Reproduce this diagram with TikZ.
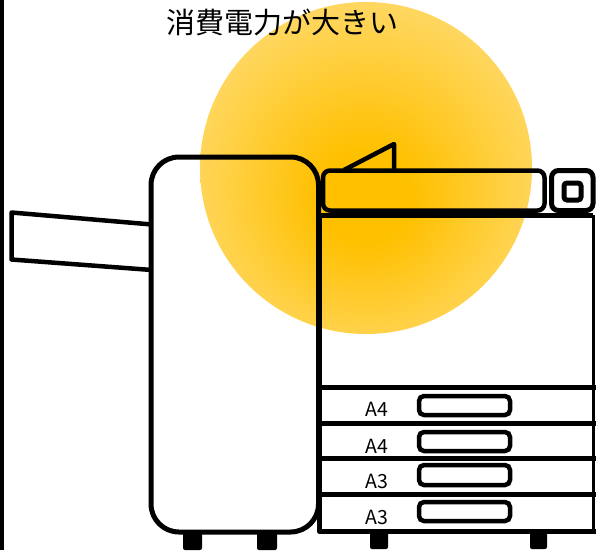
\documentclass[tikz,border=0pt]{standalone}
\usepackage{fontspec}
\setmainfont{Noto Sans CJK JP}
\definecolor{glowcore}{RGB}{255,192,0}
\definecolor{glowmid}{RGB}{255,214,92}
\definecolor{glowrim}{RGB}{255,236,168}
% warm radial glow: small solid core, fading to a pale rim at the circle's edge
\pgfdeclareradialshading{warmglow}{\pgfpoint{0bp}{-5bp}}{color(0bp)=(glowcore); color(7bp)=(glowcore); color(26bp)=(glowmid); color(50bp)=(glowrim)}
\begin{document}
\begin{tikzpicture}[x=1pt,y=-1pt,
  outline/.style={line width=5pt, line join=round},
  part/.style={line width=4.5pt, line join=round},
  foot/.style={fill=black, rounded corners=2pt},
  handle/.style={line width=4.5pt, rounded corners=5pt},
  traylabel/.style={font=\fontsize{19.5}{19.5}\selectfont, inner sep=0pt},
  title/.style={font=\fontsize{29}{29}\selectfont, inner sep=0pt}]
\useasboundingbox (0,0) rectangle (596,550);

% left border strip
\fill[black] (0,0) rectangle (4,550);

% heat glow behind the machine
\shade[shading=warmglow] (366,168) circle[radius=166pt];

% caption
\node[title] (caption) at (282.5,22.5) {消費電力が大きい};

% output tray on the finisher
\draw[part] (152,224.5) -- (11.5,212.5) -- (11.5,259.5) -- (152,270);

% finisher tower
\draw[outline, rounded corners=28pt] (151,157) rectangle (318.5,532);
\fill[foot] (183,530) rectangle (202,550);
\fill[foot] (257,530) rectangle (277,550);

% main body
\draw[outline] (593,215) -- (319,215) -- (319,531) -- (596,531);
\draw[line width=3pt] (593.5,215) -- (593.5,531);
\foreach \yy in {387,423,458.5,494}
  \draw[outline] (319,\yy) -- (596,\yy);
\fill[foot] (370,530) rectangle (388,549);
\fill[foot] (530,530) rectangle (547,549);

% scanner with document feeder
\draw[part, rounded corners=7pt] (323,170.5) rectangle (544.5,210.5);
\draw[part] (344,170) -- (394,144) -- (394,170);

% control panel
\draw[line width=5pt, rounded corners=7pt] (551.5,170.5) rectangle (593,210.5);
\draw[line width=5pt, rounded corners=3pt] (564,183) rectangle (581,200);

% paper cassettes
\draw[handle] (419,396) rectangle (510,415);
\draw[handle] (419,432) rectangle (510,451);
\draw[handle] (419,465) rectangle (510,485);
\draw[handle] (419,502) rectangle (510,521);
\node[traylabel] (tray1) at (377,409) {A4};
\node[traylabel] (tray2) at (377,446.5) {A4};
\node[traylabel] (tray3) at (377,481.5) {A3};
\node[traylabel] (tray4) at (377,517) {A3};
\end{tikzpicture}
\end{document}
